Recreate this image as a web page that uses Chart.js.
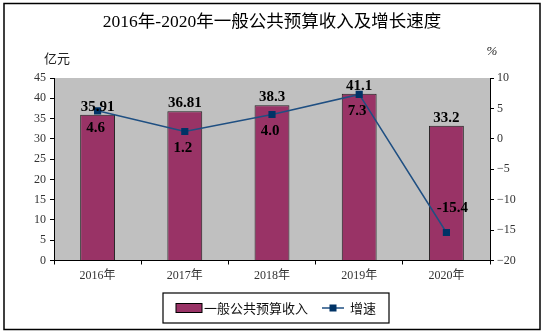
<!DOCTYPE html>
<html>
<head>
<meta charset="utf-8">
<script src="https://cdn.jsdelivr.net/npm/chart.js@4"></script>
<style>
html,body{margin:0;padding:0;background:#fff;}
#wrap{position:relative;width:545px;height:334px;}
</style>
</head>
<body>
<div id="wrap"><canvas id="c" width="545" height="334"></canvas></div>
<script>
const categories = ["2016年","2017年","2018年","2019年","2020年"];
const revenue = [35.91, 36.81, 38.3, 41.1, 33.2];
const growth = [4.6, 1.2, 4.0, 7.3, -15.4];
const leftTicks = [0,5,10,15,20,25,30,35,40,45];
const rightTicks = [-20,-15,-10,-5,0,5,10];
const titleText = "2016年-2020年一般公共预算收入及增长速度";
const leftUnit = "亿元";
const rightUnit = "%";
const seriesNames = ["一般公共预算收入","增速"];

const SERIF = '"Liberation Serif","Noto Sans CJK SC",serif';
const CJK = '"Noto Sans CJK SC","Liberation Serif",serif';

const decor = {
  id:'decor',
  beforeDraw(chart){
    const {ctx, chartArea:a} = chart;
    ctx.save();
    ctx.fillStyle = '#c0c0c0';
    ctx.fillRect(a.left, a.top, a.right-a.left, a.bottom-a.top);
    ctx.restore();
  },
  afterDraw(chart){
    const {ctx} = chart;
    ctx.save();
    // outer border
    ctx.strokeStyle = '#000'; ctx.lineWidth = 1.5;
    ctx.strokeRect(4, 3.5, 536, 326);
    // title
    ctx.fillStyle = '#000';
    ctx.font = '17.5px ' + SERIF;
    ctx.textAlign = 'center'; ctx.textBaseline = 'middle';
    ctx.fillText(titleText, 272, 22);
    // units
    ctx.font = '13px ' + CJK;
    ctx.fillStyle = '#222';
    ctx.fillText(leftUnit, 57, 58);
    ctx.font = 'italic 13px ' + SERIF;
    ctx.fillText(rightUnit, 492, 52);
    // data labels
    const bm = chart.getDatasetMeta(1), lm = chart.getDatasetMeta(0);
    ctx.fillStyle = '#000';
    ctx.font = 'bold 15px ' + SERIF;
    ctx.textBaseline = 'middle';
    bm.data.forEach((el,i)=>{
      ctx.fillText(String(revenue[i]), el.x, el.y - 8);
    });
    lm.data.forEach((el,i)=>{
      const v = growth[i];
      if (v >= 0) ctx.fillText(v.toFixed(1), el.x - 2, el.y + 17);
      else ctx.fillText(v.toFixed(1), el.x + 6, el.y - 24);
    });
    // legend
    const lx = 163, ly = 293, lw = 226, lh = 30;
    ctx.lineWidth = 1.2; ctx.strokeStyle = '#000';
    ctx.strokeRect(lx, ly, lw, lh);
    const cy = ly + lh/2;
    ctx.fillStyle = '#993366'; ctx.strokeStyle = '#000'; ctx.lineWidth = 1;
    ctx.fillRect(176, cy-4.5, 26, 9); ctx.strokeRect(176, cy-4.5, 26, 9);
    ctx.fillStyle = '#111'; ctx.font = '13px ' + CJK;
    ctx.textAlign = 'left';
    ctx.fillText(seriesNames[0], 204, cy);
    ctx.strokeStyle = '#1f4f82'; ctx.lineWidth = 1.5;
    ctx.beginPath(); ctx.moveTo(322, cy); ctx.lineTo(344, cy); ctx.stroke();
    ctx.fillStyle = '#003366'; ctx.fillRect(329.5, cy-3.5, 7, 7);
    ctx.fillStyle = '#111';
    ctx.fillText(seriesNames[1], 350, cy);
    ctx.restore();
  }
};

new Chart(document.getElementById('c'), {
  data:{
    labels: categories,
    datasets:[
      {type:'line', label:seriesNames[1], data:growth, yAxisID:'y1',
       borderColor:'#1f4f82', borderWidth:1.5, pointStyle:'rect', pointRadius:4,
       pointBackgroundColor:'#003366', pointBorderColor:'#003366', tension:0, order:0},
      {type:'bar', label:seriesNames[0], data:revenue, yAxisID:'y',
       backgroundColor:'#993366', borderColor:'#222', borderWidth:1,
       barPercentage:0.4, categoryPercentage:1, order:1}
    ]
  },
  options:{
    responsive:false, animation:false,
    layout:{padding:{top:78,left:0,right:0,bottom:0}},
    plugins:{legend:{display:false}, title:{display:false}, tooltip:{enabled:false}},
    scales:{
      x:{
        offset:true,
        grid:{display:true, drawOnChartArea:false, offset:true, tickLength:4, color:'#000'},
        border:{color:'#000', width:1},
        ticks:{font:{family:SERIF, size:12}, color:'#333', padding:4},
        afterFit(s){ s.height = 73.5; }
      },
      y:{
        position:'left', min:0, max:45,
        afterBuildTicks(s){ s.ticks = leftTicks.map(v=>({value:v})); },
        grid:{drawOnChartArea:false, tickLength:4, color:'#000'},
        border:{color:'#000', width:1},
        ticks:{font:{family:SERIF, size:12}, color:'#333', padding:4},
        afterFit(s){ s.width = 54; }
      },
      y1:{
        position:'right', min:-20, max:10,
        afterBuildTicks(s){ s.ticks = rightTicks.map(v=>({value:v})); },
        grid:{drawOnChartArea:false, tickLength:4, color:'#000'},
        border:{color:'#000', width:1},
        ticks:{font:{family:SERIF, size:12}, color:'#333', padding:3,
          callback:(v)=> String(v).replace('-', '\u2212')},
        afterFit(s){ s.width = 55; }
      }
    }
  },
  plugins:[decor]
});
</script>
</body>
</html>
